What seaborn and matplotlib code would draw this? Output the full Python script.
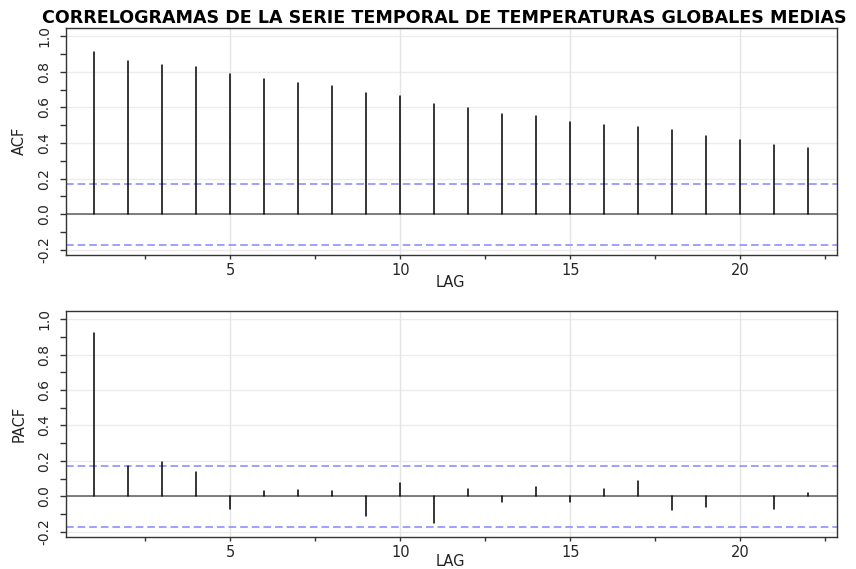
import numpy as np
import pandas as pd
import matplotlib
matplotlib.use("Agg")
import matplotlib.pyplot as plt
import seaborn as sns
from matplotlib.ticker import FixedLocator, MultipleLocator

# Correlogram values for lags 1..22
lags = list(range(1, 23))
acf_values = [0.910, 0.862, 0.840, 0.824, 0.787, 0.759, 0.739, 0.722, 0.682, 0.662,
              0.621, 0.598, 0.565, 0.550, 0.520, 0.503, 0.492, 0.473, 0.437, 0.415,
              0.387, 0.372]
pacf_values = [0.921, 0.173, 0.192, 0.135, -0.071, 0.028, 0.034, 0.028, -0.113, 0.075,
               -0.150, 0.041, -0.030, 0.053, -0.034, 0.041, 0.086, -0.075, -0.062, 0.004,
               -0.071, 0.017]
conf_bound = 0.17
y_ticks = [-0.2, 0.0, 0.2, 0.4, 0.6, 0.8, 1.0]
y_tick_labels = ["-0.2", "0.0", "0.2", "0.4", "0.6", "0.8", "1.0"]
x_ticks = [5, 10, 15, 20]
x_tick_labels = ["5", "10", "15", "20"]
title_text = "CORRELOGRAMAS DE LA SERIE TEMPORAL DE TEMPERATURAS GLOBALES MEDIAS"
panel_labels = ["ACF", "PACF"]
x_label = "LAG"

sns.set_style("white")
plt.rcParams["font.family"] = ["DejaVu Sans"]
plt.rcParams["axes.unicode_minus"] = False

W, H = 856, 569
fig = plt.figure(figsize=(W / 100, H / 100), dpi=100)


def frac_box(left, top, right, bottom):
    return [left / W, 1 - bottom / H, (right - left) / W, (bottom - top) / H]


boxes = [frac_box(65.7, 27.7, 837.0, 254.7), frac_box(65.7, 310.7, 837.0, 536.7)]
label_offsets = [28, 25]


def spikes_frame(values):
    rows = []
    for lag, v in zip(lags, values):
        rows.append({"lag": lag, "value": 0.0})
        rows.append({"lag": lag, "value": v})
    return pd.DataFrame(rows)


for box, values, name, off in zip(boxes, [acf_values, pacf_values], panel_labels, label_offsets):
    ax = fig.add_axes(box)
    ax.set_xlim(0.16, 22.84)
    ax.set_ylim(-0.227, 1.047)

    # light reference grid
    for yt in y_ticks:
        ax.axhline(yt, color="#ececec", lw=1.0, zorder=0)
    for xt in x_ticks:
        ax.axvline(xt, color="#e4e4e4", lw=1.0, zorder=0)

    # significance band and zero line
    ax.axhline(conf_bound, color="#8585ff", lw=1.1, ls=(0, (5, 2.6)), zorder=1)
    ax.axhline(-conf_bound, color="#8585ff", lw=1.1, ls=(0, (5, 2.6)), zorder=1)
    ax.axhline(0, color="#5c5c5c", lw=1.1, zorder=2)

    sns.lineplot(data=spikes_frame(values), x="lag", y="value", units="lag",
                 estimator=None, sort=False, color="black", lw=1.1, ax=ax, zorder=3)

    ax.set_xlabel("")
    ax.set_ylabel("")
    ax.xaxis.set_major_locator(FixedLocator(x_ticks))
    ax.xaxis.set_minor_locator(FixedLocator([2.5, 7.5, 12.5, 17.5, 22.5]))
    ax.set_xticklabels(x_tick_labels)
    ax.yaxis.set_major_locator(FixedLocator(y_ticks))
    ax.yaxis.set_minor_locator(MultipleLocator(0.1))
    ax.set_yticklabels(y_tick_labels, rotation=90, va="center")

    ax.tick_params(axis="x", which="both", direction="out", length=2.6, width=1.0,
                   color="#333333", labelsize=10.5, pad=3.5, bottom=True)
    ax.tick_params(axis="y", which="both", direction="out", length=4.5, width=1.0,
                   color="#333333", labelsize=10, pad=6, left=True)
    for sp in ax.spines.values():
        sp.set_color("#333333")
        sp.set_linewidth(1.0)

    # axis captions
    b = box
    fig.text(19 / W, b[1] + b[3] / 2, name, rotation=90, ha="center", va="center",
             fontsize=10.5, color="#222222")
    fig.text(450 / W, b[1] - off / H, x_label, ha="center", va="center",
             fontsize=10.5, color="#222222")

fig.text(42 / W, 1 - 18 / H, title_text, ha="left", va="center",
         fontsize=12.6, fontweight="bold", color="black")

fig.savefig("out.png", dpi=100)
